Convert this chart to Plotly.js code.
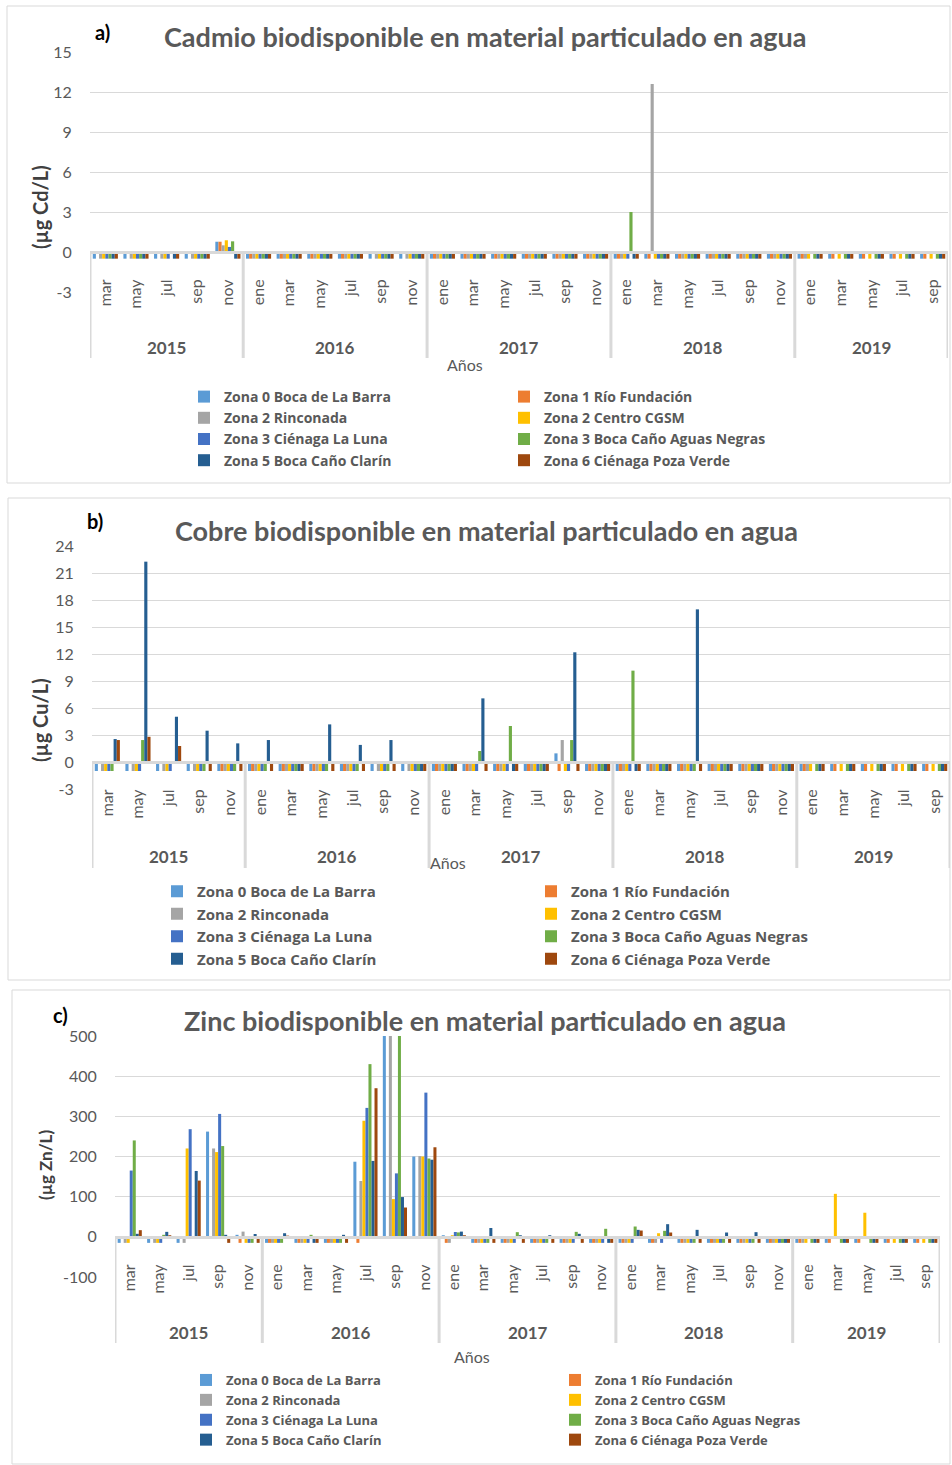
<!DOCTYPE html>
<html><head><meta charset="utf-8">
<script src="https://cdn.plot.ly/plotly-3.0.1.min.js"></script>
<style>html,body{margin:0;padding:0;background:#fff}#chart{width:952px;height:1465px}</style>
</head><body><div id="chart"></div>
<script>
// ---------- categories ----------
const months = ["mar","may","jul","sep","nov",
  "ene","mar","may","jul","sep","nov",
  "ene","mar","may","jul","sep","nov",
  "ene","mar","may","jul","sep","nov",
  "ene","mar","may","jul","sep"];
const years = ["2015","2015","2015","2015","2015",
  "2016","2016","2016","2016","2016","2016",
  "2017","2017","2017","2017","2017","2017",
  "2018","2018","2018","2018","2018","2018",
  "2019","2019","2019","2019","2019"];
const yearNames = ["2015","2016","2017","2018","2019"];
const yearCenters = [2, 7.5, 13.5, 19.5, 25];
const yearDividers = [-0.5, 4.5, 10.5, 16.5, 22.5, 27.5];

// y tick labels
const cdTickVals = [-3, 0, 3, 6, 9, 12, 15];
const cdTickText = ["-3", "0", "3", "6", "9", "12", "15"];
const cuTickVals = [-3, 0, 3, 6, 9, 12, 15, 18, 21, 24];
const cuTickText = ["-3", "0", "3", "6", "9", "12", "15", "18", "21", "24"];
const znTickVals = [-100, 0, 100, 200, 300, 400, 500];
const znTickText = ["-100", "0", "100", "200", "300", "400", "500"];

const seriesNames = ["Zona 0 Boca de La Barra","Zona 1 Río Fundación","Zona 2 Rinconada","Zona 2 Centro CGSM",
  "Zona 3 Ciénaga La Luna","Zona 3 Boca Caño Aguas Negras","Zona 5 Boca Caño Clarín","Zona 6 Ciénaga Poza Verde"];
const seriesColors = ["#5B9BD5","#ED7D31","#A5A5A5","#FFC000","#4472C4","#70AD47","#255E91","#9E480E"];

// ---------- a) Cadmio (µg Cd/L) ----------
const cd_z0 = [-0.5,-0.5,-0.5,-0.5,0.77, -0.5,-0.5,-0.5,-0.5,-0.5,-0.5, -0.5,-0.5,-0.5,-0.5,-0.5,-0.5, -0.5,-0.5,-0.5,-0.5,-0.5,-0.5, -0.5,-0.5,-0.5,-0.5,-0.5];
const cd_z1 = [null,null,null,null,0.77, -0.5,-0.5,-0.5,-0.5,null,null, -0.5,-0.5,-0.5,-0.5,-0.5,-0.5, -0.5,-0.5,-0.5,-0.5,-0.5,-0.5, -0.5,-0.5,-0.5,-0.5,-0.5];
const cd_z2 = [-0.5,-0.5,-0.5,-0.5,0.5, -0.5,-0.5,-0.5,-0.5,-0.5,-0.5, -0.5,-0.5,-0.5,-0.5,-0.5,-0.5, -0.5,12.6,-0.5,-0.5,-0.5,-0.5, -0.5,null,null,null,null];
const cd_z2c = [-0.5,-0.5,-0.5,-0.5,0.88, -0.5,-0.5,-0.5,-0.5,-0.5,-0.5, -0.5,-0.5,-0.5,-0.5,-0.5,-0.5, -0.5,-0.5,-0.5,-0.5,-0.5,-0.5, -0.5,-0.5,-0.5,-0.5,-0.5];
const cd_z3 = [-0.5,-0.5,-0.5,-0.5,0.38, -0.5,-0.5,-0.5,-0.5,-0.5,-0.5, -0.5,-0.5,-0.5,-0.5,-0.5,-0.5, -0.5,-0.5,-0.5,-0.5,-0.5,-0.5, null,null,null,null,null];
const cd_z3b = [-0.5,-0.5,null,-0.5,0.8, -0.5,-0.5,-0.5,-0.5,-0.5,-0.5, -0.5,-0.5,-0.5,-0.5,-0.5,-0.5, 3.0,-0.5,-0.5,-0.5,-0.5,-0.5, -0.5,-0.5,-0.5,-0.5,-0.5];
const cd_z5 = [-0.5,-0.5,-0.5,-0.5,-0.5, -0.5,-0.5,-0.5,-0.5,-0.5,-0.5, -0.5,-0.5,-0.5,-0.5,-0.5,-0.5, -0.5,-0.5,-0.5,-0.5,-0.5,-0.5, -0.5,-0.5,-0.5,-0.5,-0.5];
const cd_z6 = [-0.5,-0.5,-0.5,-0.5,-0.5, -0.5,-0.5,-0.5,-0.5,-0.5,-0.5, -0.5,-0.5,-0.5,-0.5,-0.5,-0.5, -0.5,-0.5,-0.5,-0.5,-0.5,-0.5, -0.5,-0.5,-0.5,-0.5,-0.5];

// ---------- b) Cobre (µg Cu/L) ----------
const cu_z0 = [-1,-1,-1,-1,-1, -1,-1,-1,-1,-1,-1, -1,-1,-1,-1,0.96,-1, -1,-1,-1,-1,-1,-1, -1,-1,-1,-1,-1];
const cu_z1 = [null,null,null,null,-1, -1,-1,-1,-1,null,null, -1,-1,-1,-1,-1,-1, -1,-1,-1,-1,-1,-1, -1,-1,-1,-1,-1];
const cu_z2 = [-1,-1,-1,-1,-1, -1,-1,-1,-1,-1,-1, -1,-1,-1,-1,2.44,-1, -1,-1,-1,-1,-1,-1, -1,null,null,null,null];
const cu_z2c = [-1,-1,-1,-1,-1, -1,-1,-1,-1,-1,-1, -1,-1,-1,-1,-1,-1, -1,-1,-1,-1,-1,-1, -1,-1,-1,-1,-1];
const cu_z3 = [-1,-1,-1,-1,-1, -1,-1,-1,-1,-1,-1, -1,-1,-1,-1,-1,-1, -1,-1,-1,-1,-1,-1, null,null,null,null,null];
const cu_z3b = [-1,2.44,null,-1,-1, -1,-1,-1,-1,-1,-1, -1,1.22,4.0,-1,2.44,-1, 10.15,-1,-1,-1,-1,-1, -1,-1,-1,-1,-1];
const cu_z5 = [2.55,22.26,5.03,3.48,2.07, 2.44,-1,4.18,1.9,2.44,-1, -1,7.07,-1,-1,12.19,-1, -1,-1,16.96,-1,-1,-1, -1,-1,-1,-1,-1];
const cu_z6 = [2.44,2.8,1.78,-1,-1, -1,-1,-1,-1,-1,-1, -1,-1,-1,-1,-1,-1, -1,-1,-1,-1,-1,-1, -1,-1,-1,-1,-1];

// ---------- c) Zinc (µg Zn/L) ----------
const zn_z0 = [-15,-15,-15,262,5, -15,-15,-15,187,620,200, 4,-15,-15,-15,-15,-15, -15,-15,-15,-15,-15,-15, -15,-15,-15,-15,-15];
const zn_z1 = [null,null,null,null,-15, -15,-15,-15,-15,null,null, -15,-15,-15,-15,-15,-15, -15,-15,-15,-15,-15,-15, -15,-15,-15,-15,-15];
const zn_z2 = [-15,-15,-15,220,13, -15,-15,-15,139,600,201, -15,-15,-15,-15,-15,-15, -15,-15,-15,-15,-15,-15, -15,null,null,null,null];
const zn_z2c = [-15,-15,220,211,-15, -15,-15,-15,289,94,200, 4,-15,-15,-15,-15,-15, -15,9,-15,-15,-15,-15, -15,107,60,-15,-15];
const zn_z3 = [165,-15,268,306,-15, -15,-15,-15,321,158,359, 12,-15,-15,-15,-15,-15, -15,-15,-15,-15,-15,-15, null,null,null,null,null];
const zn_z3b = [240,5,null,226,-15, -15,5,-15,430,560,195, 11,-15,11.6,-15,12.4,20, 25.7,15,-15,-15,-15,-15, -15,-15,-15,-15,-15];
const zn_z5 = [7.5,12.4,164,5,7, 9,-15,5,189,99,192, 13,22,4,4,7.5,-15, 17.4,31.5,17.4,10.8,11.6,-15, -15,-15,-15,-15,-15];
const zn_z6 = [16.6,4,140,-15,-15, 3,-15,-15,370,73,223, 4,-15,-15,-15,-15,-15, 15.7,10.8,-15,-15,-15,-15, -15,-15,-15,-15,-15];

// ---------- build ----------
const W = 952, H = 1465;
const X = px => px / W;
const Y = py => 1 - py / H;
const cats = months.map((m, i) => m + " " + years[i]);

const panels = [
  {series:[cd_z0,cd_z1,cd_z2,cd_z2c,cd_z3,cd_z3b,cd_z5,cd_z6], xa:"x", ya:"y", leg:"legend"},
  {series:[cu_z0,cu_z1,cu_z2,cu_z2c,cu_z3,cu_z3b,cu_z5,cu_z6], xa:"x2", ya:"y2", leg:"legend2"},
  {series:[zn_z0,zn_z1,zn_z2,zn_z2c,zn_z3,zn_z3b,zn_z5,zn_z6], xa:"x3", ya:"y3", leg:"legend3"}
];
const traces = [];
panels.forEach(p => {
  p.series.forEach((vals, k) => {
    traces.push({type:"bar", x:cats, y:vals, name:seriesNames[k], xaxis:p.xa, yaxis:p.ya,
      legend:p.leg, marker:{color:seriesColors[k], line:{width:0}}, hoverinfo:"x+y+name"});
  });
});

const grey = "#595959", light = "#d9d9d9";
function xax(x0, x1, zeroY) {
  return {domain:[X(x0), X(x1)], anchor:"free", position:Y(zeroY), type:"category",
    categoryorder:"array", categoryarray:cats, range:[-0.5, 27.5],
    tickmode:"array", tickvals:cats, ticktext:months, tickangle:-90,
    ticks:"outside", ticklen:19, tickcolor:"rgba(0,0,0,0)",
    showline:true, linecolor:light, linewidth:3, showgrid:false, zeroline:false,
    tickfont:{size:16, color:grey, family:"Lato"}, fixedrange:true};
}
function yax(xa, top, bot, r, tv, tt) {
  return {domain:[Y(bot), Y(top)], anchor:xa, range:r, tickmode:"array", tickvals:tv, ticktext:tt,
    showgrid:true, gridcolor:light, gridwidth:1, zeroline:false, showline:false,
    ticks:"outside", ticklen:14, tickcolor:"rgba(0,0,0,0)",
    tickfont:{size:16, color:grey, family:"Lato"}, fixedrange:true};
}

const annotations = [];
const shapes = [];
function panelDecor(cfg) {
  shapes.push({type:"rect", xref:"paper", yref:"paper", x0:X(cfg.box[0]), y0:Y(cfg.box[1]), x1:X(cfg.box[2]), y1:Y(cfg.box[3]),
    line:{color:light, width:1}, fillcolor:"rgba(0,0,0,0)", layer:"below"});
  annotations.push({xref:"paper", yref:"paper", x:X(cfg.lab[0]), y:Y(cfg.lab[1]), text:"<b>"+cfg.lab[2]+"</b>",
    showarrow:false, xanchor:"center", yanchor:"middle", font:{size:20, color:"#000", family:"Lato"}});
  annotations.push({xref:"paper", yref:"paper", x:X(cfg.title[0]), y:Y(cfg.title[1]), text:"<b>"+cfg.title[2]+"</b>",
    showarrow:false, xanchor:"center", yanchor:"middle", font:{size:27, color:grey, family:"Lato"}});
  annotations.push({xref:"paper", yref:"paper", x:X(cfg.ytitle[0]), y:Y(cfg.ytitle[1]), text:"<b>"+cfg.ytitle[2]+"</b>",
    showarrow:false, textangle:-90, xanchor:"center", yanchor:"middle", font:{size:cfg.ytitle[3], color:"#404040", family:"Lato"}});
  yearNames.forEach((yn, i) => {
    annotations.push({xref:cfg.xa, yref:"paper", x:yearCenters[i], y:Y(cfg.yearY), text:"<b>"+yn+"</b>",
      showarrow:false, xanchor:"center", yanchor:"middle", font:{size:17, color:grey, family:"Lato"}});
  });
  annotations.push({xref:"paper", yref:"paper", x:X(cfg.anos[0]), y:Y(cfg.anos[1]), text:"Años",
    showarrow:false, xanchor:"center", yanchor:"middle", font:{size:16, color:grey, family:"Lato"}});
  yearDividers.forEach(d => {
    shapes.push({type:"line", xref:cfg.xa, yref:"paper", x0:d, x1:d, y0:Y(cfg.div[0]), y1:Y(cfg.div[1]),
      line:{color:light, width:3}});
  });
}
panelDecor({xa:"x", box:[7,6,950,483], lab:[102,32,"a)"], title:[485,37,"Cadmio biodisponible en material particulado en agua"],
  ytitle:[40,207,"(µg Cd/L)",20], yearY:347, anos:[465,365], div:[252,358]});
panelDecor({xa:"x2", box:[8,498,950,980], lab:[95,521,"b)"], title:[487,530,"Cobre biodisponible en material particulado en agua"],
  ytitle:[40,720,"(µg Cu/L)",20], yearY:857, anos:[448,862], div:[762,868]});
panelDecor({xa:"x3", box:[12,990,950,1464], lab:[60,1015,"c)"], title:[485,1020,"Zinc biodisponible en material particulado en agua"],
  ytitle:[45,1165,"(µg Zn/L)",17], yearY:1332, anos:[472,1356], div:[1237,1343]});

function leg(x, top, ew, fs) {
  return {x:X(x), y:Y(top), xanchor:"left", yanchor:"top", orientation:"h", entrywidth:ew, entrywidthmode:"pixels",
    traceorder:"normal", bgcolor:"rgba(0,0,0,0)", borderwidth:0,
    font:{size:fs, color:grey, family:"Open Sans", weight:"bold"}};
}

const layout = {
  width:W, height:H, margin:{l:0, r:0, t:0, b:0}, autosize:false,
  paper_bgcolor:"#fff", plot_bgcolor:"rgba(0,0,0,0)",
  font:{family:"Lato, 'Open Sans', sans-serif", color:grey},
  barmode:"group", bargap:0.18, bargroupgap:0,
  xaxis:xax(90, 948, 252), yaxis:yax("x", 52, 292, [-3, 15], cdTickVals, cdTickText),
  xaxis2:xax(92, 950, 762), yaxis2:yax("x2", 546, 789, [-3, 24], cuTickVals, cuTickText),
  xaxis3:xax(115, 940, 1237), yaxis3:yax("x3", 1036, 1277, [-100, 500], znTickVals, znTickText),
  legend:leg(184, 381, 275, 14),
  legend2:leg(157, 875, 329, 15),
  legend3:leg(186, 1365, 324, 13),
  annotations:annotations, shapes:shapes
};

Plotly.newPlot("chart", traces, layout, {staticPlot:true, displayModeBar:false});
</script></body></html>
